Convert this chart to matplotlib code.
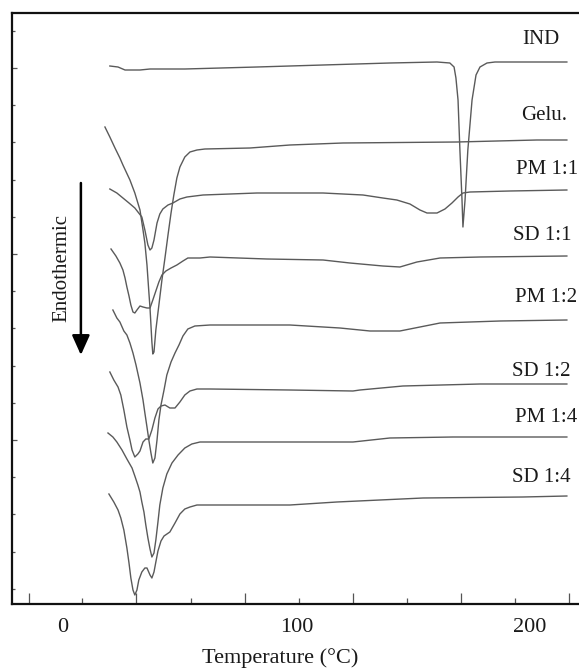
import matplotlib
matplotlib.use("Agg")
import matplotlib.pyplot as plt
from matplotlib.ticker import FixedLocator, NullFormatter

plt.rcParams['font.family'] = ['Liberation Serif', 'DejaVu Serif']

# ---- data (temperature in °C, heat-flow signal in arbitrary units) ----
ind_T = [20.1, 23.6, 26.6, 33.0, 37.3, 52.2, 83.1, 97.2, 111.4, 140.0, 160.2, 165.7, 167.5, 168.3,
         169.2, 170.0, 170.9, 171.3, 172.2, 173.4, 175.2, 176.9, 178.6, 181.6, 185.0, 215.8]
ind_s = [538, 537, 534, 534, 535, 535, 537, 538, 539, 541, 542, 541, 537, 526,
         504, 454, 404, 377, 404, 454, 504, 529, 537, 541, 542, 542]

gelu_T = [18.0, 20.1, 22.3, 24.4, 25.7, 28.7, 30.8, 33.0, 34.3, 35.1, 36.0, 36.8, 37.3, 37.7, 38.1,
          38.5, 39.0, 39.8, 41.1, 42.4, 43.7, 45.0, 46.3, 47.5, 48.8, 50.1, 52.2, 54.4, 57.4, 60.8,
          80.1, 97.2, 119.9, 168.7, 203.0, 215.8]
gelu_s = [477, 467, 456, 446, 439, 424, 411, 394, 374, 361, 339, 312, 296, 279, 262,
          250, 252, 274, 299, 324, 346, 369, 391, 409, 426, 437, 447, 452, 454, 455,
          456, 459, 461, 462, 464, 464]

pm11_T = [20.1, 23.1, 25.7, 28.3, 30.8, 33.8, 35.1, 36.4, 37.3, 38.1, 39.0, 40.3, 41.5, 42.8, 45.0,
          47.1, 50.1, 53.1, 60.0, 83.1, 111.4, 128.5, 137.0, 143.0, 148.6, 152.9, 155.9, 160.2,
          163.6, 166.6, 169.2, 171.3, 174.3, 191.4, 215.8]
pm11_s = [415, 411, 406, 401, 396, 387, 374, 359, 354, 356, 364, 381, 390, 395, 399,
          401, 405, 407, 409, 411, 411, 409, 406, 404, 400, 394, 391, 391,
          395, 401, 407, 411, 412, 413, 414]

sd11_T = [20.6, 22.7, 24.4, 25.7, 26.6, 27.4, 28.3, 29.1, 30.0, 30.8, 31.7, 33.0, 34.3, 36.0, 37.3,
          38.5, 39.8, 41.1, 42.4, 44.1, 46.3, 48.8, 51.4, 53.5, 58.7, 63.0, 87.4, 111.4, 122.9,
          137.0, 144.3, 151.6, 161.5, 178.6, 215.8]
sd11_s = [355, 348, 341, 334, 326, 317, 308, 299, 292, 291, 294, 298, 297, 296, 296,
          304, 313, 322, 329, 333, 336, 339, 343, 346, 346, 347, 345, 344, 341,
          338, 337, 342, 346, 347, 348]

pm12_T = [21.4, 23.1, 24.4, 26.1, 27.4, 28.7, 30.0, 31.3, 33.0, 34.3, 35.1, 36.0, 36.8, 37.7, 38.5,
          39.4, 40.3, 41.1, 42.0, 43.3, 44.5, 46.3, 48.0, 49.7, 51.4, 53.5, 56.5, 63.0, 97.2,
          118.6, 131.5, 144.3, 152.9, 161.5, 187.2, 215.8]
pm12_s = [294, 286, 282, 273, 269, 261, 251, 239, 221, 204, 191, 177, 164, 151, 141,
          146, 164, 184, 199, 214, 229, 242, 251, 259, 268, 275, 278, 279, 279,
          276, 273, 273, 277, 281, 283, 284]

sd12_T = [20.1, 21.8, 23.6, 24.8, 26.1, 27.4, 28.7, 29.6, 30.8, 32.1, 33.0, 34.3, 35.5, 36.8, 38.1,
          39.4, 40.7, 42.0, 43.7, 45.8, 48.0, 50.1, 52.2, 54.4, 57.4, 63.0, 97.2, 124.2, 127.2,
          145.6, 178.6, 215.8]
sd12_s = [232, 224, 217, 209, 194, 177, 164, 154, 147, 150, 153, 162, 165, 165, 174,
          186, 195, 198, 199, 196, 196, 202, 209, 213, 215, 215, 214, 213, 214,
          218, 220, 220]

pm14_T = [19.3, 21.4, 23.1, 25.3, 27.4, 29.6, 30.8, 32.1, 33.0, 33.8, 34.7, 35.5, 36.4, 37.3, 38.1,
          39.0, 39.8, 40.7, 41.5, 42.8, 44.5, 46.7, 49.3, 52.2, 55.2, 58.7, 97.2, 124.2, 140.0,
          167.0, 215.8]
pm14_s = [171, 167, 162, 154, 145, 136, 128, 119, 112, 102, 92, 79, 66, 55, 47,
          51, 64, 82, 99, 116, 130, 141, 149, 156, 160, 162, 162, 162, 166,
          167, 167]

sd14_T = [19.7, 21.8, 23.6, 24.8, 26.1, 27.4, 28.3, 29.1, 30.0, 30.8, 31.7, 32.5, 33.8, 35.1, 36.0,
          37.3, 38.1, 39.0, 39.8, 40.7, 42.0, 43.3, 45.8, 48.0, 50.1, 52.2, 54.4, 57.4, 63.0,
          97.2, 117.3, 154.2, 197.0, 215.8]
sd14_s = [110, 102, 94, 86, 74, 56, 41, 26, 14, 9, 14, 24, 32, 36, 36,
          29, 26, 32, 42, 53, 63, 68, 72, 81, 90, 95, 97, 99, 99,
          99, 102, 106, 107, 108]

curve_names = ["IND", "Gelu.", "PM 1:1", "SD 1:1", "PM 1:2", "SD 1:2", "PM 1:4", "SD 1:4"]
curves_T = [ind_T, gelu_T, pm11_T, sd11_T, pm12_T, sd12_T, pm14_T, sd14_T]
curves_s = [ind_s, gelu_s, pm11_s, sd11_s, pm12_s, sd12_s, pm14_s, sd14_s]

# label anchors (right edge x in °C, y centre in signal units)
label_x = [212.8, 215.8, 220.6, 218.0, 220.2, 217.2, 220.2, 217.2]
label_y = [564, 489, 434, 369, 307, 232, 186, 126]

xtick_labels = [0, 100, 200]
xtick_major = [-14.6, 31.3, 77.9, 124.2, 170.4, 216.7]
xtick_minor = [8.1, 54.8, 101.1, 147.3, 193.6]
ytick_major = [164.0, 350.0, 536.0]
ytick_minor = [15.2, 52.4, 89.6, 126.8, 201.2, 238.4, 275.6, 312.8, 387.2, 424.4, 461.6, 498.8, 573.2]

# ---- figure ----
fig = plt.figure(figsize=(5.79, 6.69), dpi=100)
ax = fig.add_axes([12 / 579, 65 / 669, 567 / 579, 591 / 669])

for T, s in zip(curves_T, curves_s):
    ax.plot(T, s, color="#5a5a5a", lw=1.0, solid_joinstyle="round")

for name, lx, ly in zip(curve_names, label_x, label_y):
    ax.text(lx, ly, name, ha="right", va="center", fontsize=15, color="#1a1a1a")

ax.set_xlim(-21.8, 221.0)
ax.set_ylim(0, 591)

ax.spines["right"].set_visible(False)
for sp in ("top", "left", "bottom"):
    ax.spines[sp].set_linewidth(1.6)
    ax.spines[sp].set_color("#111111")

ax.xaxis.set_major_locator(FixedLocator(xtick_major))
ax.xaxis.set_minor_locator(FixedLocator(xtick_minor))
ax.xaxis.set_major_formatter(NullFormatter())
ax.yaxis.set_major_locator(FixedLocator(ytick_major))
ax.yaxis.set_minor_locator(FixedLocator(ytick_minor))
ax.yaxis.set_major_formatter(NullFormatter())
ax.tick_params(axis="x", which="major", direction="in", length=8, width=0.9, color="#555555")
ax.tick_params(axis="x", which="minor", direction="in", length=4.5, width=0.9, color="#555555")
ax.tick_params(axis="y", which="major", direction="in", length=3.5, width=0.9, color="#555555")
ax.tick_params(axis="y", which="minor", direction="in", length=2, width=0.9, color="#555555")

sec = ax.secondary_xaxis("bottom")
sec.set_xticks(xtick_labels)
sec.set_xticklabels([str(v) for v in xtick_labels])
sec.tick_params(length=0, pad=10, labelsize=16, labelcolor="#1a1a1a")
sec.spines["bottom"].set_visible(False)

ax.set_xlabel("Temperature (°C)", fontsize=16, color="#1a1a1a")
ax.xaxis.set_label_coords(0.473, -0.074)

# Endothermic arrow
ax.annotate("", xy=(7.7, 249), xytext=(7.7, 421),
            arrowprops=dict(arrowstyle="-|>,head_length=0.6,head_width=0.27",
                            mutation_scale=20, lw=1.8, color="black",
                            shrinkA=0, shrinkB=0))
ax.text(-0.4, 336, "Endothermic", rotation=90, ha="center", va="center",
        fontsize=15, color="#1a1a1a")

fig.savefig("out.png", dpi=100)
